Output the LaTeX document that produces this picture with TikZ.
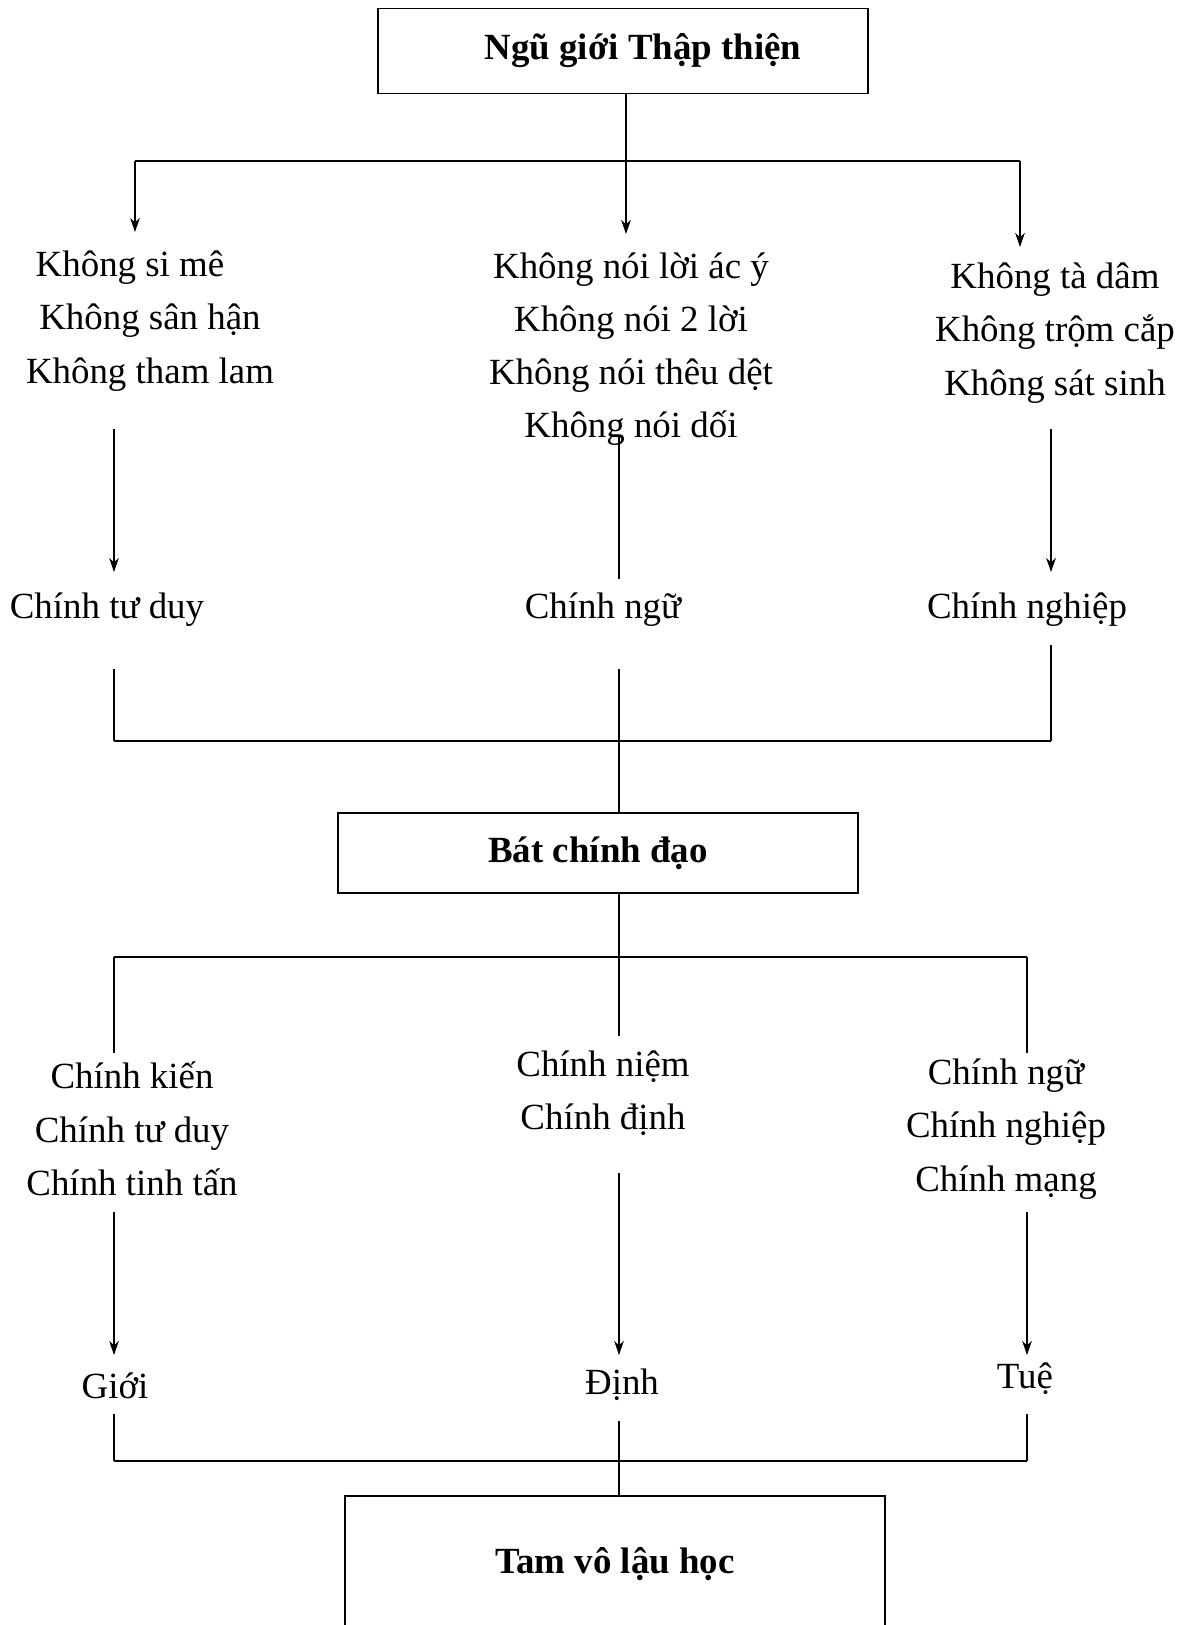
\documentclass[tikz,border=0pt]{standalone}
\usepackage{fontspec}
\setmainfont{Liberation Serif}
\usetikzlibrary{arrows.meta}
\newcommand\diagfont{\fontsize{21}{30.3}\selectfont}
\tikzset{
	box/.style={draw,line width=1.1pt,font=\diagfont\bfseries,inner sep=0pt},
	txt/.style={align=center,inner sep=0pt,font=\diagfont},
	bar/.style={line width=1.1pt},
	link/.style={line width=0.6pt},
	>={Stealth[length=8pt,width=5.5pt,inset=2.5pt]}
}
\begin{document}
\begin{tikzpicture}[x=0.02cm,y=-0.02cm]
	\useasboundingbox (0,0) rectangle (1195,1625);
	\node(ngu) [box,minimum width=9.82cm,minimum height=1.7cm] at (623,51) {\hspace*{0.8cm}Ngũ giới Thập thiện};
	\node(k1) [txt] at (150,321) {Không si mê\hspace*{0.8cm}\\Không sân hận\\Không tham lam};
	\node(k2) [txt] at (631,349) {Không nói lời ác ý\\Không nói 2 lời\\Không nói thêu dệt\\Không nói dối};
	\node(k3) [txt] at (1055,333) {Không tà dâm\\Không trộm cắp\\Không sát sinh};
	\node(c1) [txt] at (107,610) {Chính tư duy};
	\node(c2) [txt] at (603,610) {Chính ngữ};
	\node(c3) [txt] at (1027,610) {Chính nghiệp};
	\node(bat) [box,minimum width=10.4cm,minimum height=1.6cm] at (598,853) {Bát chính đạo};
	\node(p1) [txt] at (132,1129) {Chính kiến\\Chính tư duy\\Chính tinh tấn};
	\node(p2) [txt] at (603,1093) {Chính niệm\\Chính định};
	\node(p3) [txt] at (1006,1129) {Chính ngữ\\Chính nghiệp\\Chính mạng};
	\node(g1) [txt] at (115,1386) {Giới};
	\node(g2) [txt] at (622,1385) {Định};
	\node(g3) [txt] at (1025,1379) {Tuệ};
	\node(tam) [box,minimum width=10.82cm,minimum height=2.72cm] at (615,1564) {Tam vô lậu học};
	% from the five precepts
	\coordinate (f1) at (626,161);
	\coordinate (t1) at (135,232);
	\coordinate (t2) at (626,234);
	\coordinate (t3) at (1020,247);
	\draw [link,->] (ngu.south -| t2) -- (t2);
	\draw [bar] (t1 |- f1) -- (t3 |- f1);
	\draw [link,->] (t1 |- f1) -- (t1);
	\draw [link,->] (t3 |- f1) -- (t3);
	\coordinate (u1) at (114,429);
	\coordinate (v1) at (114,572);
	\coordinate (u2) at (619,435);
	\coordinate (v2) at (619,579);
	\coordinate (u3) at (1051,429);
	\coordinate (v3) at (1051,572);
	\draw [link,->] (u1) -- (v1);
	\draw [link] (u2) -- (v2);
	\draw [link,->] (u3) -- (v3);
	% into the eightfold path
	\coordinate (f2) at (619,741);
	\coordinate (w1) at (114,669);
	\coordinate (w2) at (619,669);
	\coordinate (w3) at (1051,645);
	\draw [link] (w1) -- (w1 |- f2);
	\draw [link] (w3) -- (w3 |- f2);
	\draw [bar] (w1 |- f2) -- (w3 |- f2);
	\draw [link] (w2) -- (w2 |- bat.north);
	% out of the eightfold path
	\coordinate (f3) at (619,957);
	\coordinate (x1) at (114,1053);
	\coordinate (x2) at (619,1036);
	\coordinate (x3) at (1027,1053);
	\draw [link] (bat.south -| f3) -- (x2);
	\draw [bar] (x1 |- f3) -- (x3 |- f3);
	\draw [link] (x1 |- f3) -- (x1);
	\draw [link] (x3 |- f3) -- (x3);
	\coordinate (y1) at (114,1212);
	\coordinate (z1) at (114,1355);
	\coordinate (y2) at (619,1173);
	\coordinate (z2) at (619,1355);
	\coordinate (y3) at (1027,1212);
	\coordinate (z3) at (1027,1355);
	\draw [link,->] (y1) -- (z1);
	\draw [link,->] (y2) -- (z2);
	\draw [link,->] (y3) -- (z3);
	% into the three trainings
	\coordinate (f4) at (619,1461);
	\coordinate (q1) at (114,1414);
	\coordinate (q2) at (619,1421);
	\coordinate (q3) at (1027,1414);
	\draw [link] (q1) -- (q1 |- f4);
	\draw [link] (q3) -- (q3 |- f4);
	\draw [bar] (q1 |- f4) -- (q3 |- f4);
	\draw [link] (q2) -- (q2 |- tam.north);
\end{tikzpicture}
\end{document}
